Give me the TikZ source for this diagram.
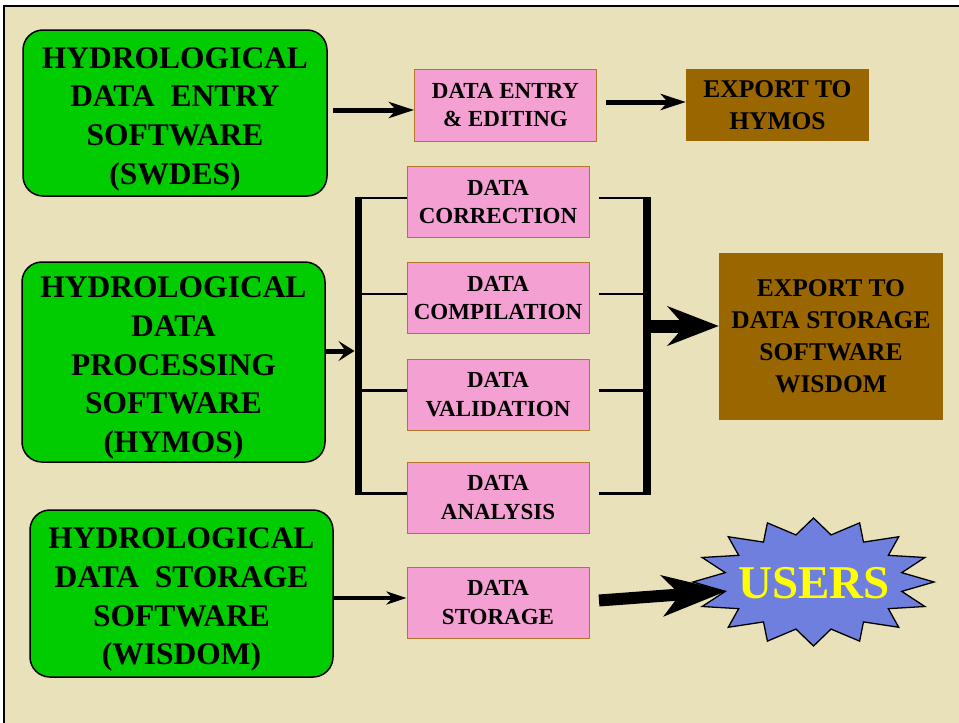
\documentclass[tikz,border=0pt]{standalone}
\usepackage{fontspec}
\setmainfont{Liberation Serif}
\usetikzlibrary{arrows.meta,calc}
\definecolor{bgc}{HTML}{E8E1B9}
\definecolor{gboxc}{HTML}{00CC00}
\definecolor{pinkc}{HTML}{F4A0D2}
\definecolor{pbord}{HTML}{B4762A}
\definecolor{brownc}{HTML}{996600}
\definecolor{starc}{HTML}{6F7FDD}
\definecolor{usersc}{HTML}{FFFF00}
\newcommand{\gtop}{\rule{0pt}{33pt}}
\begin{document}
\begin{tikzpicture}[x=1pt,y=-1pt,
  greenbox/.style={draw=black,line width=1.5pt,fill=gboxc,rounded corners=20pt,align=center,inner sep=0pt,
    font=\fontsize{31.5}{38.7}\selectfont\bfseries},
  pinkbox/.style={draw=pbord,line width=1pt,fill=pinkc,minimum width=182pt,minimum height=71pt,inner sep=0pt,align=center,
    font=\fontsize{23}{28.5}\selectfont\bfseries},
  brownbox/.style={fill=brownc,inner sep=0pt,align=center,font=\fontsize{25.5}{32}\selectfont\bfseries},
  conn/.style={line width=5pt,-{Stealth[length=25pt,width=16pt,inset=7pt]}},
  thinconn/.style={line width=3.5pt,-{Stealth[length=20pt,width=13pt,inset=6pt]}},
  hyconn/.style={line width=5pt,-{Stealth[length=16pt,width=20pt,inset=7pt]}},
  bigconn/.style={line width=13pt,-{Stealth[length=51pt,width=39pt,inset=17pt]}},
  branch/.style={line width=2.5pt},
  bar/.style={line width=7.5pt},
]
\useasboundingbox (0,0) rectangle (959,723);
\fill[white] (0,0) rectangle (959,723);
\fill[bgc] (3.8,6.2) rectangle (975,740);
\draw[line width=2.5pt] (3.8,6.2) rectangle (975,740);

% green boxes
\node[greenbox,minimum width=304pt,minimum height=166pt] (swdes) at (175,113)
  {\gtop HYDROLOGICAL\\DATA~~ENTRY\\SOFTWARE\\(SWDES)};
\node[greenbox,minimum width=303pt,minimum height=200pt] (hymos) at (173.5,362)
  {\gtop HYDROLOGICAL\\DATA\\PROCESSING\\SOFTWARE\\(HYMOS)};
\node[greenbox,minimum width=303pt,minimum height=167pt] (wisdom) at (181.5,593.5)
  {\gtop HYDROLOGICAL\\DATA~~STORAGE\\SOFTWARE\\(WISDOM)};

% pink boxes
\node[pinkbox,minimum height=72pt] (entry) at (505.5,105) {DATA ENTRY\\\& EDITING};
\node[pinkbox] (corr) at (498,202) {DATA\\CORRECTION};
\node[pinkbox] (comp) at (498,298) {DATA\\COMPILATION};
\node[pinkbox] (val) at (498,394.5) {DATA\\VALIDATION};
\node[pinkbox] (anal) at (498,497.5) {DATA\\ANALYSIS};
\node[pinkbox] (stor) at (498,602.5) {DATA\\STORAGE};

% brown boxes
\node[brownbox,minimum width=183pt,minimum height=72pt] (exh) at (777.5,105) {EXPORT TO\\HYMOS};
\node[brownbox,minimum width=224pt,minimum height=167pt] (exw) at (831,336.5)
  {EXPORT TO\\DATA STORAGE\\SOFTWARE\\WISDOM};

% star
\filldraw[fill=starc,draw=black,line width=1.3pt,shift={(813.5,582)}]
  plot[samples at={0,...,31}] ({cos(\x*11.25)*(iseven(\x)?120.5:90)},{sin(\x*11.25)*(iseven(\x)?64:48)}) -- cycle;

% arrows top row
\coordinate (a1s) at (333,110);
\draw[conn] (a1s) -- (a1s -| entry.west);
\coordinate (a2s) at (606,102);
\draw[conn] (a2s) -- (a2s -| exh.west);

% left bracket
\draw[branch] ([yshift=4pt]corr.west) -- ++(-49,0) coordinate (lt);
\draw[branch] ([yshift=4pt]comp.west) -- ++(-49,0);
\draw[branch] ([yshift=4pt]val.west) -- ++(-49,0);
\draw[branch] ([yshift=4pt]anal.west) -- ++(-49,0) coordinate (lb);
\draw[bar] ([yshift=1.2pt,xshift=1pt]lt) -- ([yshift=-1.2pt,xshift=1pt]lb);
\coordinate (lmid) at (354.5,351);
\draw[hyconn] (hymos.east |- lmid) -- (lmid);

% right bracket
\draw[branch] ([xshift=9pt,yshift=4pt]corr.east) -- ++(52,0) coordinate (rt);
\draw[branch] ([xshift=9pt,yshift=4pt]comp.east) -- ++(52,0);
\draw[branch] ([xshift=9pt,yshift=4pt]val.east) -- ++(52,0);
\draw[branch] ([xshift=9pt,yshift=4pt]anal.east) -- ++(52,0) coordinate (rb);
\draw[bar] ([yshift=1.2pt,xshift=-3.5pt]rt) -- ([yshift=-1.2pt,xshift=-3.5pt]rb);
\coordinate (rmid) at (649,326);
\draw[bigconn] (rmid) -- (rmid -| exw.west);

% storage arrows
\coordinate (a3s) at (333,598);
\draw[thinconn] (a3s) -- (a3s -| stor.west);
\coordinate (a4s) at (599,600.5);
\coordinate (a4e) at (727,591);
\draw[bigconn,line width=12pt,-{Stealth[length=64pt,width=40pt,inset=17pt]}] (a4s) -- (a4e);

\node[font=\fontsize{47}{47}\selectfont\bfseries,text=usersc,inner sep=0pt] (users) at (814,583) {USERS};
\end{tikzpicture}
\end{document}
